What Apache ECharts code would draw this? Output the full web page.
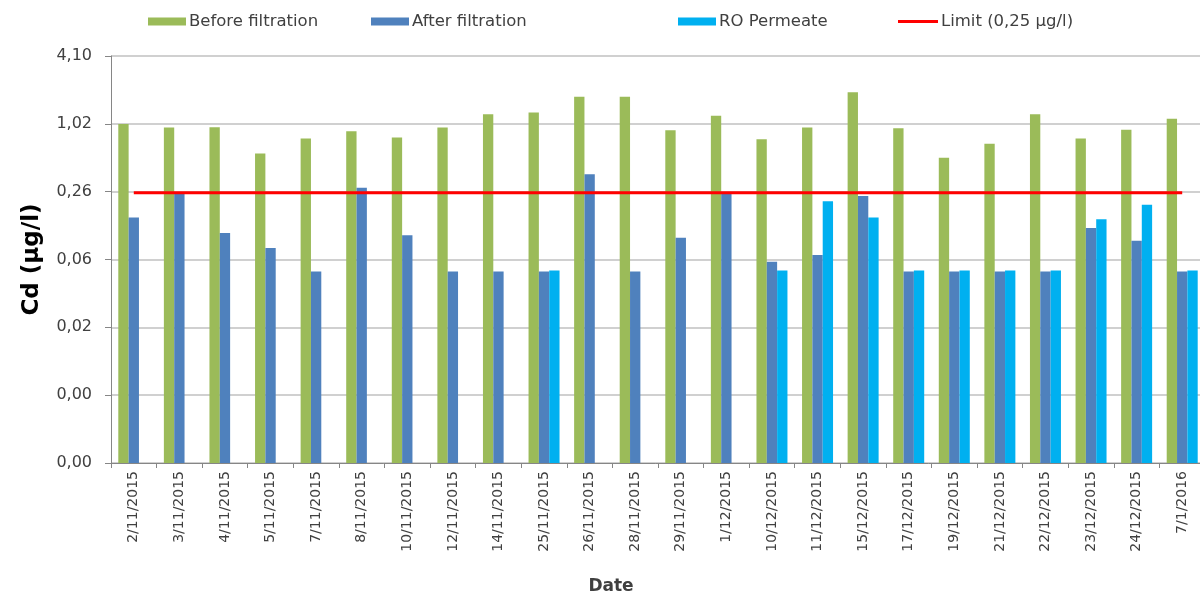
<!DOCTYPE html>
<html>
<head>
<meta charset="utf-8">
<script src="https://cdn.jsdelivr.net/npm/echarts@6/dist/echarts.min.js"></script>
<style>
html,body{margin:0;padding:0;background:#fff;overflow:hidden;}
#chart{width:1200px;height:593px;}
</style>
</head>
<body>
<div id="chart"></div>
<script>
// Category labels
var dates = ['2/11/2015','3/11/2015','4/11/2015','5/11/2015','7/11/2015','8/11/2015','10/11/2015','12/11/2015','14/11/2015','25/11/2015','26/11/2015','28/11/2015','29/11/2015','1/12/2015','10/12/2015','11/12/2015','15/12/2015','17/12/2015','19/12/2015','21/12/2015','22/12/2015','23/12/2015','24/12/2015','7/1/2016'];
// Cd concentrations in µg/l
var beforeFiltration = [1.02,0.949,0.955,0.558,0.759,0.881,0.775,0.949,1.247,1.29,1.78,1.78,0.900,1.206,0.749,0.949,1.957,0.938,0.511,0.681,1.247,0.759,0.906,1.134];
var afterFiltration  = [0.151,0.25,0.110,0.081,0.050,0.277,0.105,0.050,0.050,0.050,0.366,0.050,0.100,0.25,0.061,0.070,0.234,0.050,0.050,0.050,0.050,0.122,0.094,0.050];
var roPermeate       = [null,null,null,null,null,null,null,null,null,0.051,null,null,null,null,0.051,0.211,0.151,0.051,0.051,0.051,0.051,0.146,0.196,0.051];
var limitValue = 0.25;
// Axis: log base 4 from 0.001 to 4.096 µg/l (tick labels 0,00 ... 4,10)
var axisMinUg = 0.001, axisMaxUg = 4.096, axisLogBase = 4;

// The log axis works in ng/l so that ticks land on 0.001*4^k µg/l
var toAxis = function (v) { return v == null ? null : v * 1000; };
var limitSeries = dates.map(function () { return limitValue; });

var FONT = 'DejaVu Sans';
var TXT = '#404040';

var chart = echarts.init(document.getElementById('chart'));
var legendBase = {
  top: 8, itemWidth: 38, itemHeight: 8, itemGap: 5,
  textStyle: { fontFamily: FONT, fontSize: 16.5, color: TXT, padding: [0,0,0,-2] },
  selectedMode: false
};
chart.setOption({
  animation: false,
  backgroundColor: '#fff',
  textStyle: { fontFamily: FONT },
  legend: [
    Object.assign({}, legendBase, { left: 143, data: [{ name: 'Before filtration', icon: 'rect' }] }),
    Object.assign({}, legendBase, { left: 366, data: [{ name: 'After filtration', icon: 'rect' }] }),
    Object.assign({}, legendBase, { left: 673, data: [{ name: 'RO Permeate', icon: 'rect' }] }),
    Object.assign({}, legendBase, { left: 893, itemWidth: 40, itemHeight: 3, data: [{ name: 'Limit (0,25 µg/l)', icon: 'rect' }] })
  ],
  grid: { left: 111, right: -5, top: 56, bottom: 130, containLabel: false, outerBoundsMode: 'none' },
  xAxis: {
    type: 'category',
    data: dates,
    name: 'Date',
    nameLocation: 'middle',
    nameGap: 115,
    nameTextStyle: { fontFamily: FONT, fontSize: 17, fontWeight: 'bold', color: TXT, padding: [0, 94, 0, 0] },
    axisLine: { lineStyle: { color: '#868686', width: 1 } },
    axisTick: { show: true, length: 5, lineStyle: { color: '#868686' } },
    axisLabel: { rotate: 90, fontFamily: FONT, fontSize: 14, color: TXT, margin: 8, interval: 0 },
    splitLine: { show: false }
  },
  yAxis: {
    type: 'log',
    logBase: axisLogBase,
    min: toAxis(axisMinUg),
    max: toAxis(axisMaxUg),
    name: 'Cd (µg/l)',
    nameLocation: 'middle',
    nameGap: 67,
    nameTextStyle: { fontFamily: FONT, fontSize: 23, fontWeight: 'bold', color: '#000' },
    axisLine: { show: true, lineStyle: { color: '#868686', width: 1 } },
    axisTick: { show: true, inside: false, length: 6, lineStyle: { color: '#868686' } },
    axisLabel: {
      fontFamily: FONT, fontSize: 16, color: TXT, margin: 19,
      formatter: function (v) { return (v / 1000).toFixed(2).replace('.', ','); }
    },
    splitLine: { show: true, lineStyle: { color: '#c0c0c0', width: 1.5 } },
    minorSplitLine: { show: false }
  },
  series: [
    { name: 'Before filtration', type: 'bar', data: beforeFiltration.map(toAxis), itemStyle: { color: '#9BBB59' }, barGap: '0%', barCategoryGap: '32%' },
    { name: 'After filtration', type: 'bar', data: afterFiltration.map(toAxis), itemStyle: { color: '#4F81BD' }, barGap: '0%', barCategoryGap: '32%' },
    { name: 'RO Permeate', type: 'bar', data: roPermeate.map(toAxis), itemStyle: { color: '#00B0F0' }, barGap: '0%', barCategoryGap: '32%' },
    { name: 'Limit (0,25 µg/l)', type: 'line', data: limitSeries.map(toAxis), symbol: 'none', showSymbol: false,
      lineStyle: { color: '#FF0000', width: 3 }, itemStyle: { color: '#FF0000' }, z: 5 }
  ]
});
</script>
</body>
</html>
